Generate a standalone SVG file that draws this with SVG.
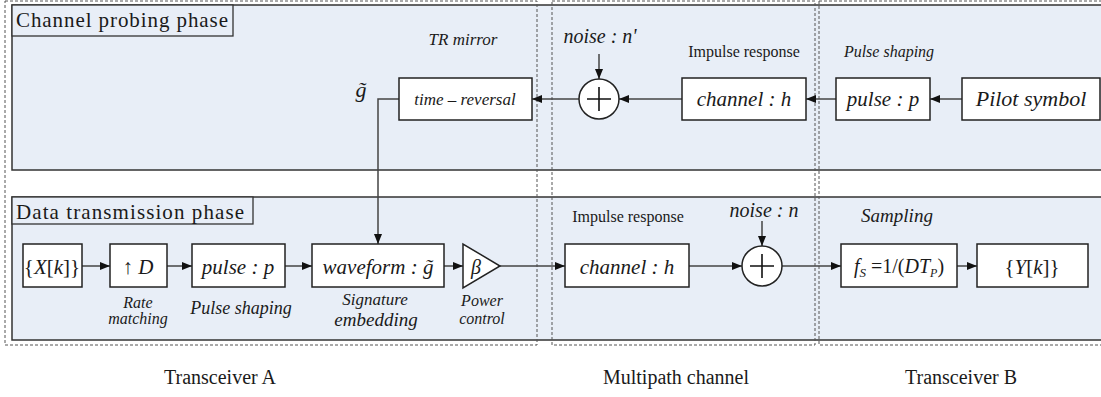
<svg xmlns="http://www.w3.org/2000/svg" width="1101" height="397" viewBox="0 0 1101 397">
<style>
.panel{fill:#e8eef7;stroke:#333;stroke-width:1.5}
.lbl{fill:#e8eef7;stroke:#333;stroke-width:1.3}
.box{fill:#fff;stroke:#222;stroke-width:1.5}
.dash{fill:none;stroke:#555;stroke-width:1;stroke-dasharray:3,2}
.con{fill:none;stroke:#444;stroke-width:1.5}
text{font-family:"Liberation Serif",Tinos,"Times New Roman",Times,"Noto Serif","DejaVu Serif",FreeSerif,serif;fill:#1a1a1a}
.it{font-style:italic}
.c{text-anchor:middle}
</style>
<defs>
<marker id="ah" markerUnits="userSpaceOnUse" markerWidth="10" markerHeight="8" refX="10" refY="4" orient="auto">
<path d="M0,0 L10,4 L0,8 z" fill="#111"/>
</marker>
</defs>
<g id="panels">
<rect class="panel" x="12" y="5" width="1095" height="165"/>
<rect class="panel" x="12" y="197" width="1095" height="143"/>
<rect class="lbl" x="12" y="5" width="221" height="31"/>
<text x="16" y="27" font-size="21" textLength="212">Channel probing phase</text>
<rect class="lbl" x="12" y="197" width="241" height="27"/>
<text x="16" y="219" font-size="21" textLength="228">Data transmission phase</text>
</g>
<g id="regions">
<rect class="dash" x="5" y="1" width="532" height="344"/>
<rect class="dash" x="552" y="1" width="263" height="344"/>
<rect class="dash" x="819" y="1" width="290" height="344"/>
<text class="c" x="220" y="384" font-size="20">Transceiver A</text>
<text class="c" x="676" y="384" font-size="20">Multipath channel</text>
<text class="c" x="961" y="384" font-size="20">Transceiver B</text>
</g>
<g id="connectors">
<line class="con" x1="962" y1="99" x2="930" y2="99" marker-end="url(#ah)"/>
<line class="con" x1="836" y1="99" x2="806" y2="99" marker-end="url(#ah)"/>
<line class="con" x1="682" y1="99" x2="619" y2="99" marker-end="url(#ah)"/>
<line class="con" x1="579" y1="99" x2="532" y2="99" marker-end="url(#ah)"/>
<line class="con" x1="599" y1="54" x2="599" y2="79" marker-end="url(#ah)"/>
<polyline class="con" points="399,99 378,99 378,244" marker-end="url(#ah)"/>
<line class="con" x1="82" y1="266" x2="110" y2="266" marker-end="url(#ah)"/>
<line class="con" x1="167" y1="266" x2="192" y2="266" marker-end="url(#ah)"/>
<line class="con" x1="285" y1="266" x2="312" y2="266" marker-end="url(#ah)"/>
<line class="con" x1="444" y1="266" x2="463" y2="266" marker-end="url(#ah)"/>
<line class="con" x1="500" y1="266" x2="565" y2="266" marker-end="url(#ah)"/>
<line class="con" x1="689" y1="266" x2="742" y2="266" marker-end="url(#ah)"/>
<line class="con" x1="762" y1="221" x2="762" y2="246" marker-end="url(#ah)"/>
<line class="con" x1="782" y1="266" x2="841" y2="266" marker-end="url(#ah)"/>
<line class="con" x1="957" y1="266" x2="977" y2="266" marker-end="url(#ah)"/>
</g>
<g id="pilot">
<rect class="box" x="962" y="78" width="138" height="42"/>
<text class="c it" x="1031" y="106" font-size="22">Pilot symbol</text>
</g>
<g id="pulse-top">
<rect class="box" x="836" y="78" width="94" height="42"/>
<text class="c it" x="883" y="106" font-size="21">pulse : p</text>
<text class="c it" x="889" y="57" font-size="16">Pulse shaping</text>
</g>
<g id="channel-top">
<rect class="box" x="682" y="78" width="124" height="42"/>
<text class="c it" x="744" y="106" font-size="21">channel : h</text>
<text class="c" x="744" y="57" font-size="16">Impulse response</text>
</g>
<g id="sum-top">
<circle class="box" cx="599" cy="99" r="20"/>
<path d="M587,99 H611 M599,87 V111" stroke="#111" stroke-width="1.6"/>
<text class="c it" x="600" y="43" font-size="20">noise : n'</text>
</g>
<g id="time-reversal">
<rect class="box" x="399" y="78" width="133" height="42"/>
<text class="c it" x="465" y="105" font-size="17">time – reversal</text>
<text class="c it" x="463" y="45" font-size="17">TR mirror</text>
<text class="c it" x="361" y="97" font-size="22">g̃</text>
</g>
<g id="xk">
<rect class="box" x="23" y="244" width="59" height="43"/>
<text class="c" x="52" y="274" font-size="21">{<tspan class="it">X</tspan>[<tspan class="it">k</tspan>]}</text>
</g>
<g id="upsample">
<rect class="box" x="110" y="244" width="57" height="43"/>
<text class="c" x="138" y="274" font-size="21">↑ <tspan class="it">D</tspan></text>
<text class="c it" x="138" y="308" font-size="16">Rate</text>
<text class="c it" x="138" y="324" font-size="16">matching</text>
</g>
<g id="pulse-bottom">
<rect class="box" x="192" y="244" width="93" height="43"/>
<text class="c it" x="238" y="274" font-size="21">pulse : p</text>
<text class="c it" x="241" y="314" font-size="18">Pulse shaping</text>
</g>
<g id="waveform">
<rect class="box" x="312" y="244" width="132" height="43"/>
<text class="c it" x="378" y="274" font-size="21">waveform : g̃</text>
<text class="c it" x="375" y="305" font-size="17">Signature</text>
<text class="c it" x="376" y="326" font-size="19">embedding</text>
</g>
<g id="power">
<polygon class="box" points="463,244 463,288 500,266"/>
<text class="c it" x="476" y="274" font-size="20">β</text>
<text class="c it" x="482" y="306" font-size="16">Power</text>
<text class="c it" x="482" y="324" font-size="16">control</text>
</g>
<g id="channel-bottom">
<rect class="box" x="565" y="244" width="124" height="43"/>
<text class="c it" x="627" y="274" font-size="21">channel : h</text>
<text class="c" x="628" y="222" font-size="16">Impulse response</text>
</g>
<g id="sum-bottom">
<circle class="box" cx="762" cy="266" r="20"/>
<path d="M750,266 H774 M762,254 V278" stroke="#111" stroke-width="1.6"/>
<text class="c it" x="764" y="217" font-size="20">noise : n</text>
</g>
<g id="sampler">
<rect class="box" x="841" y="244" width="116" height="43"/>
<text class="c" x="899" y="273" font-size="20"><tspan class="it">f</tspan><tspan class="it" font-size="13" dy="4">S</tspan><tspan dy="-4"> =1/(</tspan><tspan class="it">DT</tspan><tspan class="it" font-size="12" dy="4">P</tspan><tspan dy="-4">)</tspan></text>
<text class="c it" x="897" y="222" font-size="19">Sampling</text>
</g>
<g id="yk">
<rect class="box" x="977" y="244" width="111" height="43"/>
<text class="c" x="1032" y="274" font-size="21">{<tspan class="it">Y</tspan>[<tspan class="it">k</tspan>]}</text>
</g>
</svg>
